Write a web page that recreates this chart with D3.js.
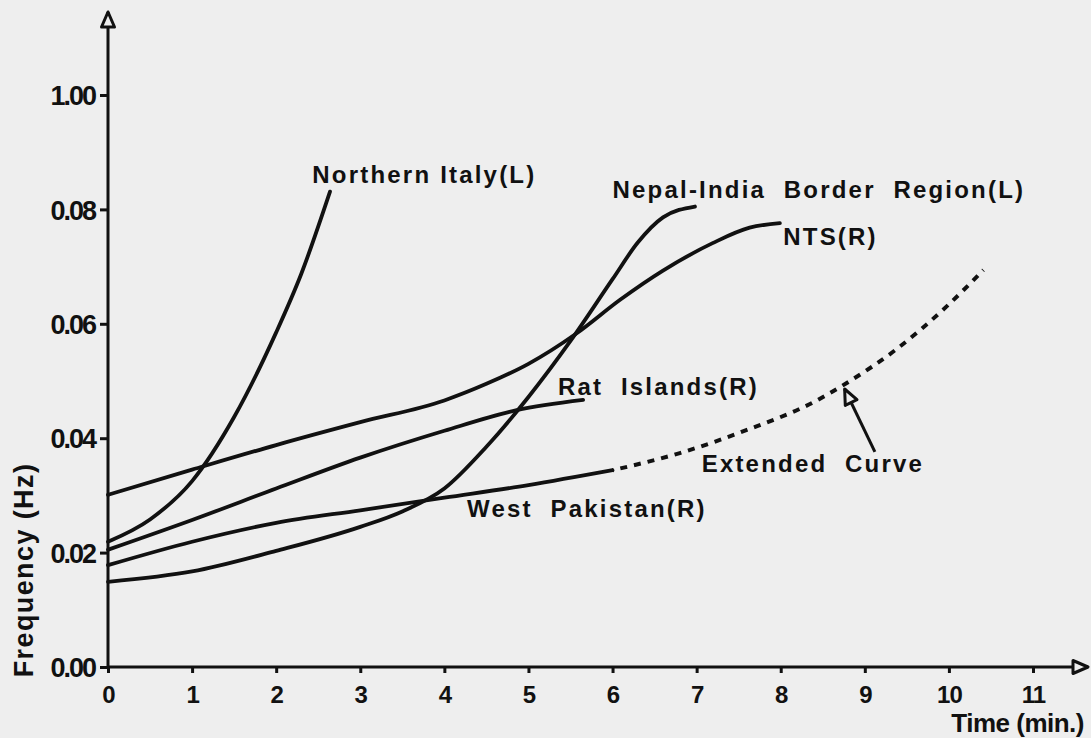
<!DOCTYPE html>
<html>
<head>
<meta charset="utf-8">
<script src="https://cdn.jsdelivr.net/npm/d3@7"></script>
<style>
  body { margin: 0; background: #eeeeee; }
  svg { display: block; }
  text { fill: #111; }
</style>
</head>
<body>
<div class="chart"></div>
<script>
// tick values and labels (the top label really says 1.00 in the original)
var xTicks = [0, 1, 2, 3, 4, 5, 6, 7, 8, 9, 10, 11];
var yTicks = [0, 0.02, 0.04, 0.06, 0.08, 0.10];
var yTickLabels = ["0.00", "0.02", "0.04", "0.06", "0.08", "1.00"];

// curves: [time (min), frequency (Hz)]
var northernItaly = [[0, 0.0219], [0.5, 0.0258], [1.0, 0.0325], [1.5, 0.0437], [2.0, 0.0585], [2.3, 0.0688], [2.64, 0.0831]];
var nepalIndia = [[0, 0.0149], [1, 0.0167], [2, 0.0203], [3, 0.0245], [3.5, 0.0272], [4, 0.0312], [4.5, 0.0385], [5, 0.0472], [5.5, 0.0570], [6, 0.0678], [6.3, 0.0742], [6.6, 0.0786], [6.98, 0.0805]];
var nts = [[0, 0.0301], [1, 0.0345], [2, 0.0388], [3, 0.0428], [4, 0.0466], [4.5, 0.0495], [5, 0.0530], [5.57, 0.0583], [6.09, 0.0642], [6.6, 0.0693], [7.19, 0.0741], [7.63, 0.0768], [7.99, 0.0776]];
var ratIslands = [[0, 0.0205], [1, 0.0257], [2, 0.0312], [3, 0.0366], [4, 0.0413], [4.86, 0.0449], [5.65, 0.0467]];
var westPakistan = [[0, 0.0178], [1, 0.0219], [2, 0.0252], [3, 0.0274], [4, 0.0296], [5, 0.0318], [6.0, 0.0344]];
var extendedCurve = [[6.0, 0.0344], [6.8, 0.0374], [7.59, 0.0414], [8.39, 0.0463], [8.78, 0.0496], [9.38, 0.0556], [9.97, 0.0630], [10.41, 0.0694]];

var svgWidth = 1091;
var svgHeight = 738;

var svg = d3.select(".chart")
  .append("svg")
  .attr("width", svgWidth)
  .attr("height", svgHeight);

svg.append("rect")
  .attr("width", svgWidth)
  .attr("height", svgHeight)
  .attr("fill", "#eeeeee");

var x = d3.scaleLinear().domain([0, 11]).range([108, 1033]);
var y = d3.scaleLinear().domain([0, 0.10]).range([667, 95]);

// open arrow head used on both axes and the callout
svg.append("defs").append("marker")
  .attr("id", "openArrow")
  .attr("markerUnits", "userSpaceOnUse")
  .attr("viewBox", "-2 -10 20 20")
  .attr("markerWidth", 20)
  .attr("markerHeight", 20)
  .attr("refX", 15)
  .attr("refY", 0)
  .attr("orient", "auto")
  .append("path")
  .attr("d", "M0,-6.5L15,0L0,6.5Z")
  .attr("fill", "#eeeeee")
  .attr("stroke", "#111")
  .attr("stroke-width", 3)
  .attr("stroke-linejoin", "round");

// axes lines with arrows
svg.append("line")
  .attr("x1", x(0)).attr("y1", y(0))
  .attr("x2", 1088).attr("y2", y(0))
  .attr("stroke", "#111").attr("stroke-width", 3)
  .attr("marker-end", "url(#openArrow)");

svg.append("line")
  .attr("x1", x(0)).attr("y1", y(0))
  .attr("x2", x(0)).attr("y2", 12)
  .attr("stroke", "#111").attr("stroke-width", 3)
  .attr("marker-end", "url(#openArrow)");

var bottomAxis = d3.axisBottom(x).tickValues(xTicks).tickSize(6).tickSizeOuter(0).tickFormat(d3.format("d"));
var leftAxis = d3.axisLeft(y).tickValues(yTicks).tickSize(8).tickSizeOuter(0).tickPadding(5)
  .tickFormat(function(d, i) { return yTickLabels[i]; });

var gx = svg.append("g")
  .attr("transform", `translate(0, ${y(0)})`)
  .call(bottomAxis);
gx.select(".domain").remove();
gx.selectAll(".tick line").attr("stroke", "#111").attr("stroke-width", 3);
gx.selectAll(".tick text")
  .attr("y", 36).attr("dy", null)
  .attr("font-family", "'Liberation Sans', Arial, sans-serif")
  .attr("font-weight", "bold")
  .attr("font-size", 24)
  .attr("letter-spacing", -1)
  .attr("fill", "#111");

var gy = svg.append("g")
  .attr("transform", `translate(${x(0)}, 0)`)
  .call(leftAxis);
gy.select(".domain").remove();
gy.selectAll(".tick line").attr("stroke", "#111").attr("stroke-width", 3);
gy.selectAll(".tick text")
  .attr("dy", "0.36em")
  .attr("font-family", "'Liberation Sans', Arial, sans-serif")
  .attr("font-weight", "bold")
  .attr("font-size", 27)
  .attr("letter-spacing", -2)
  .attr("fill", "#111");

// axis titles
svg.append("text")
  .attr("transform", "translate(33, 570) rotate(-90)")
  .attr("text-anchor", "middle")
  .attr("font-family", "'Liberation Sans', Arial, sans-serif")
  .attr("font-weight", "bold")
  .attr("font-size", 27)
  .attr("letter-spacing", 1.4)
  .text("Frequency (Hz)");

svg.append("text")
  .attr("x", 1084)
  .attr("y", 732)
  .attr("text-anchor", "end")
  .attr("font-family", "'Liberation Sans', Arial, sans-serif")
  .attr("font-weight", "bold")
  .attr("font-size", 26)
  .attr("letter-spacing", -0.5)
  .text("Time (min.)");

// curves
var line = d3.line()
  .x(d => x(d[0]))
  .y(d => y(d[1]))
  .curve(d3.curveMonotoneX);

var solidCurves = [northernItaly, nepalIndia, nts, ratIslands, westPakistan];

svg.selectAll(".curve")
  .data(solidCurves)
  .enter()
  .append("path")
  .attr("class", "curve")
  .attr("d", line)
  .attr("fill", "none")
  .attr("stroke", "#111")
  .attr("stroke-width", 3.8)
  .attr("stroke-linecap", "round");

svg.append("path")
  .datum(extendedCurve)
  .attr("d", line)
  .attr("fill", "none")
  .attr("stroke", "#111")
  .attr("stroke-width", 4)
  .attr("stroke-dasharray", "7,7")
  .attr("stroke-dashoffset", -8);

// curve names, placed in data units
var notes = [
  { text: "Northern Italy(L)", t: 2.43, f: 0.0846 },
  { text: "Nepal-India  Border  Region(L)", t: 6.0, f: 0.0820 },
  { text: "NTS(R)", t: 8.03, f: 0.0738 },
  { text: "Rat  Islands(R)", t: 5.35, f: 0.0476 },
  { text: "West  Pakistan(R)", t: 4.27, f: 0.0262 },
  { text: "Extended  Curve", t: 7.06, f: 0.0341 }
];

svg.selectAll(".note")
  .data(notes)
  .enter()
  .append("text")
  .attr("class", "note")
  .attr("x", d => x(d.t))
  .attr("y", d => y(d.f))
  .attr("font-family", "'Liberation Sans', Arial, sans-serif")
  .attr("font-weight", "bold")
  .attr("font-size", 24)
  .attr("letter-spacing", 2.2)
  .style("white-space", "pre")
  .text(d => d.text);

// callout arrow pointing at the dotted curve
svg.append("line")
  .attr("x1", x(9.12)).attr("y1", y(0.0376))
  .attr("x2", x(8.76)).attr("y2", y(0.0486))
  .attr("stroke", "#111")
  .attr("stroke-width", 3)
  .attr("marker-end", "url(#openArrow)");
</script>
</body>
</html>
